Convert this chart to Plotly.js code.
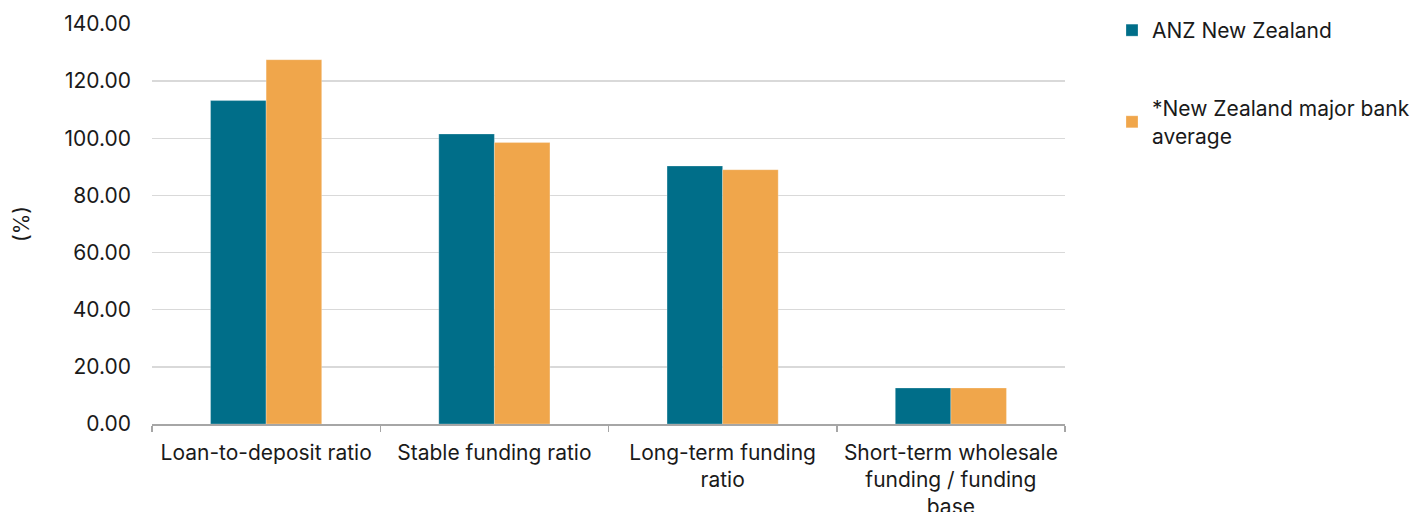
<!DOCTYPE html>
<html><head><meta charset="utf-8">
<script src="https://cdn.plot.ly/plotly-3.0.1.min.js"></script>
<style>body{margin:0;background:#fff}#chart{width:1420px;height:512px}</style>
</head><body><div id="chart"></div>
<script>
const categories = ["Loan-to-deposit ratio", "Stable funding ratio", "Long-term funding<br>ratio", "Short-term wholesale<br>funding / funding<br>base"];
const anzValues = [113.2, 101.5, 90.3, 12.6];
const avgValues = [127.5, 98.5, 89.0, 12.6];
const yTicks = [0, 20, 40, 60, 80, 100, 120, 140];
const yTickLabels = ["0.00", "20.00", "40.00", "60.00", "80.00", "100.00", "120.00", "140.00"];

const fontFam = "Inter, Roboto, sans-serif";
const traces = [
  {type: "bar", name: "ANZ New Zealand", x: categories, y: anzValues,
   marker: {color: "#006E89", line: {color: "rgba(255,255,255,0.25)", width: 1}}, legend: "legend"},
  {type: "bar", name: "*New Zealand major bank<br>average", x: categories, y: avgValues,
   marker: {color: "#F0A64B", line: {color: "rgba(255,255,255,0.25)", width: 1}}, legend: "legend2"}
];
const layout = {
  width: 1420, height: 512,
  margin: {l: 152, r: 355, t: 24, b: 88, autoexpand: false},
  paper_bgcolor: "#fff", plot_bgcolor: "#fff",
  font: {family: fontFam, size: 21, color: "#1a1a1a"},
  barmode: "group", bargap: 0.513, bargroupgap: 0,
  xaxis: {type: "category", showline: true, linecolor: "#a6a6a6", linewidth: 1.5,
          ticks: "outside", tickson: "boundaries", ticklen: 6, tickcolor: "#a6a6a6", tickwidth: 1.5,
          showgrid: false, ticklabelstandoff: 9, tickfont: {size: 21}, automargin: false},
  yaxis: {range: [0, 140], tickvals: yTicks, ticktext: yTickLabels, showgrid: true,
          gridcolor: "#d9d9d9", gridwidth: 1.5, zeroline: false, showline: false,
          ticks: "", ticklabelstandoff: 20, tickfont: {size: 21}, automargin: false,
          title: {text: "(%)", font: {size: 21}, standoff: 28}},
  showlegend: true,
  legend: {x: 1112/1420, xref: "container", y: 1 - 10/512, yref: "container", yanchor: "top", xanchor: "left",
           font: {size: 21}, itemwidth: 30, bgcolor: "rgba(0,0,0,0)"},
  legend2: {x: 1112/1420, xref: "container", y: 1 - 88/512, yref: "container", yanchor: "top", xanchor: "left",
           font: {size: 21}, itemwidth: 30, bgcolor: "rgba(0,0,0,0)"}
};
Plotly.newPlot("chart", traces, layout, {displayModeBar: false, staticPlot: true});
</script></body></html>
